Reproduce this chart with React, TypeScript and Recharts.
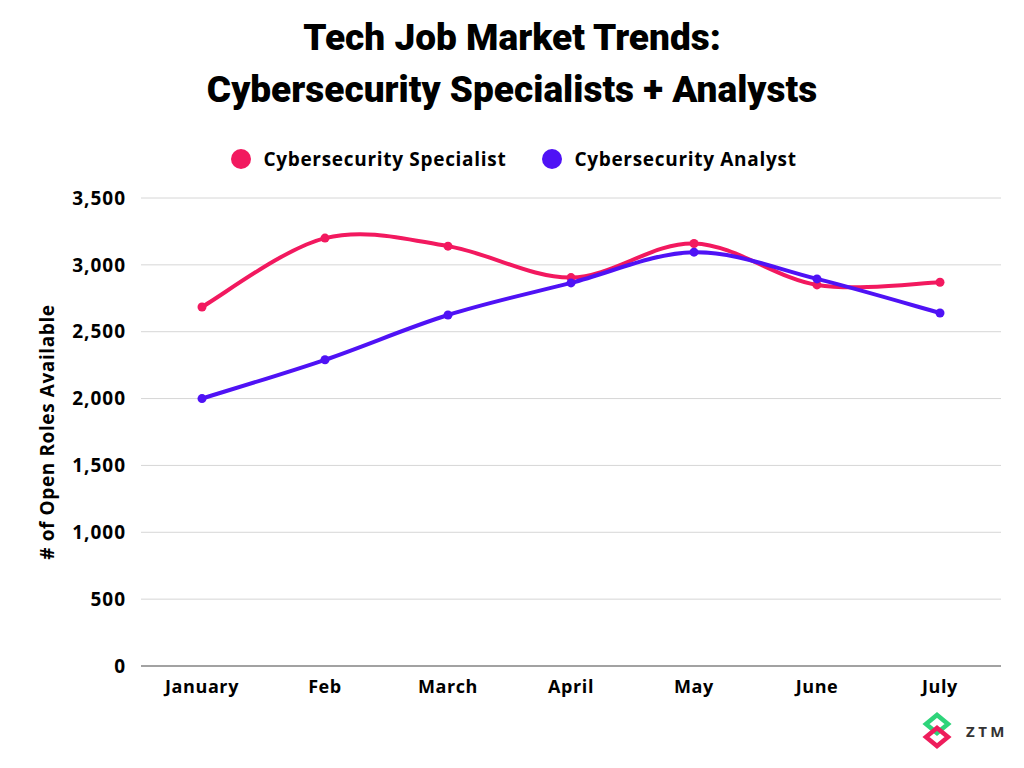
import React from 'react';
import { LineChart, Line, XAxis, YAxis, CartesianGrid } from 'recharts';

const months = ['January', 'Feb', 'March', 'April', 'May', 'June', 'July'];
const specialist = [2685, 3200, 3140, 2905, 3160, 2850, 2870];
const analyst = [2000, 2290, 2625, 2865, 3095, 2895, 2640];
const yTicks = [0, 500, 1000, 1500, 2000, 2500, 3000, 3500];

const series = [
  { key: 'specialist', name: 'Cybersecurity Specialist', color: '#F2195F' },
  { key: 'analyst', name: 'Cybersecurity Analyst', color: '#4F12F5' },
];

const data = months.map((m, i) => ({ month: m, specialist: specialist[i], analyst: analyst[i] }));

// Catmull-Rom style curve factory
function smoothCurve(context: any) {
  let pts: number[][] = [];
  return {
    areaStart() {},
    areaEnd() {},
    lineStart() {
      pts = [];
    },
    lineEnd() {
      if (!pts.length) return;
      context.moveTo(pts[0][0], pts[0][1]);
      const t = 1 / 6;
      for (let i = 0; i < pts.length - 1; i++) {
        const p0 = pts[i - 1] || pts[i];
        const p1 = pts[i];
        const p2 = pts[i + 1];
        const p3 = pts[i + 2] || p2;
        context.bezierCurveTo(
          p1[0] + (p2[0] - p0[0]) * t,
          p1[1] + (p2[1] - p0[1]) * t,
          p2[0] - (p3[0] - p1[0]) * t,
          p2[1] - (p3[1] - p1[1]) * t,
          p2[0],
          p2[1]
        );
      }
    },
    point(x: number, y: number) {
      pts.push([x, y]);
    },
  };
}

const font = "'Open Sans', 'DejaVu Sans', sans-serif";

export default function App() {
  return (
    <div
      style={{
        position: 'absolute',
        left: 0,
        top: 0,
        width: 1024,
        height: 768,
        background: '#fff',
        fontFamily: font,
        overflow: 'hidden',
      }}
    >
      <div
        style={{
          position: 'absolute',
          top: 12,
          left: 0,
          width: 1024,
          textAlign: 'center',
          fontFamily: "Roboto, Lato, 'Open Sans', sans-serif",
          fontWeight: 900,
          fontSize: 37,
          lineHeight: '52px',
          color: '#000',
        }}
      >
        <div>Tech Job Market Trends:</div>
        <div>Cybersecurity Specialists + Analysts</div>
      </div>

      <div
        style={{
          position: 'absolute',
          top: 146,
          left: 0,
          width: 1024,
          display: 'flex',
          justifyContent: 'center',
          gap: 36,
          paddingLeft: 4,
          boxSizing: 'border-box',
        }}
      >
        {series.map((s) => (
          <div key={s.key} style={{ display: 'flex', alignItems: 'center' }}>
            <span
              style={{
                display: 'inline-block',
                width: 20,
                height: 20,
                borderRadius: 10,
                background: s.color,
                marginRight: 12,
              }}
            />
            <span style={{ fontSize: 19, fontWeight: 700, color: '#000', letterSpacing: 0.7 }}>{s.name}</span>
          </div>
        ))}
      </div>

      <div
        style={{
          position: 'absolute',
          left: 47,
          top: 432,
          transform: 'translate(-50%, -50%) rotate(-90deg)',
          whiteSpace: 'nowrap',
          fontSize: 19,
          fontWeight: 700,
          letterSpacing: 0.6,
          color: '#000',
        }}
      >
        # of Open Roles Available
      </div>

      <div style={{ position: 'absolute', left: 0, top: 0 }}>
        <LineChart width={1024} height={768} data={data} margin={{ top: 198, right: 23, left: 0, bottom: 0 }}>
          <CartesianGrid vertical={false} stroke="#d6d6d6" strokeWidth={1} />
          <XAxis
            dataKey="month"
            height={102}
            padding={{ left: 61, right: 61 }}
            axisLine={{ stroke: '#8a8a8a', strokeWidth: 1.5 }}
            tickLine={false}
            tickMargin={8}
            tick={{ fill: '#000', fontSize: 18, fontWeight: 700, fontFamily: font, letterSpacing: 0.6 }}
            interval={0}
          />
          <YAxis
            width={141}
            domain={[0, 3500]}
            ticks={yTicks}
            axisLine={false}
            tickLine={false}
            tickMargin={9}
            tickFormatter={(v: number) => v.toLocaleString('en-US')}
            tick={{ fill: '#000', fontSize: 19, fontWeight: 700, fontFamily: font, letterSpacing: 1 }}
          />
          {series.map((s) => (
            <Line
              key={s.key}
              dataKey={s.key}
              name={s.name}
              type={smoothCurve as any}
              stroke={s.color}
              strokeWidth={4}
              dot={{ r: 4.5, fill: s.color, stroke: s.color, strokeWidth: 0 }}
              activeDot={false}
              isAnimationActive={false}
            />
          ))}
        </LineChart>
      </div>

      <svg style={{ position: 'absolute', left: 922, top: 708 }} width={100} height={46}>
        <path d="M4,16 L15,7 L26,16 L15,25 Z" fill="none" stroke="#2ED47A" strokeWidth={4.5} />
        <path d="M4,29 L15,20 L26,29 L15,38 Z" fill="none" stroke="#EE1D5C" strokeWidth={4.5} />
        <text x={44} y={29} fontSize={15} fontWeight={700} fill="#333" letterSpacing={3.5} fontFamily={font}>
          ZTM
        </text>
      </svg>
    </div>
  );
}
